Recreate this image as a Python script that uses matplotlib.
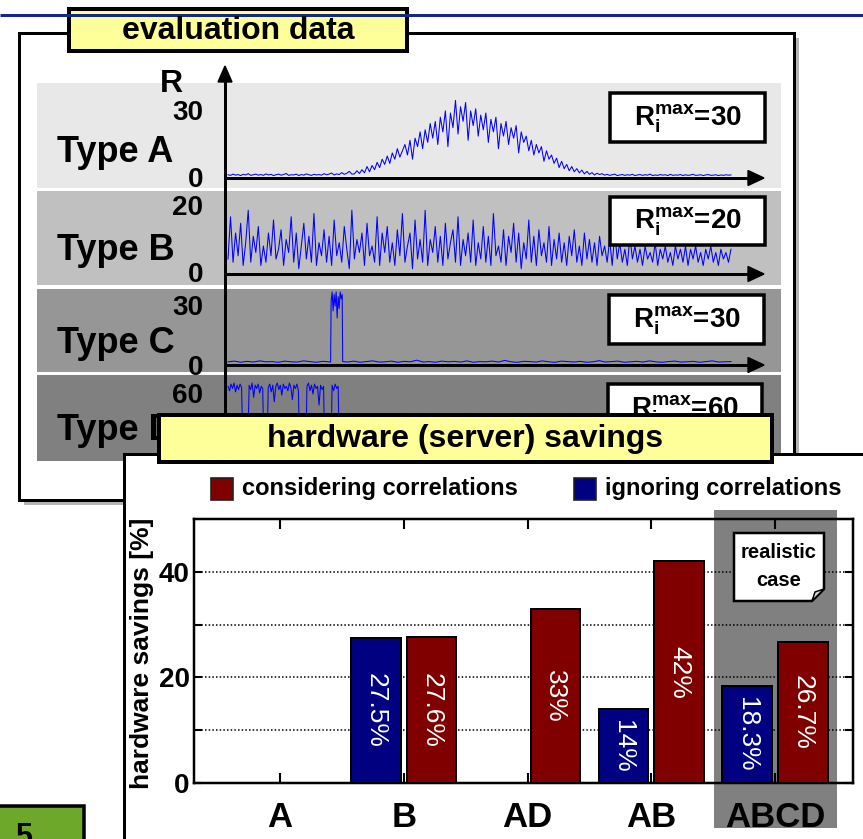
import numpy as np
import matplotlib
matplotlib.use('Agg')
import matplotlib.pyplot as plt
from matplotlib.patches import Rectangle, Polygon

plt.rcParams['font.family'] = ['Liberation Sans', 'DejaVu Sans']
plt.rcParams['mathtext.fontset'] = 'custom'
plt.rcParams['mathtext.rm'] = 'Liberation Sans'
plt.rcParams['mathtext.bf'] = 'Liberation Sans:bold'
plt.rcParams['mathtext.it'] = 'Liberation Sans:italic'

# ---------------- data ----------------
categories = ['A', 'B', 'AD', 'AB', 'ABCD']
ignoring = [None, 27.5, None, 14, 18.3]
considering = [None, 27.6, 33, 42, 26.7]
legend_labels = ['considering correlations', 'ignoring correlations']
type_names = ['Type A', 'Type B', 'Type C', 'Type D']
r_max = [30, 20, 30, 60]
r_top_labels = ['30', '20', '30', '60']

type_a = [0.6, 0.3, 0.9, 0.4, 0.7, 0.2, 0.8, 0.5, 1.1, 0.3, 0.6, 0.9, 0.4, 0.7, 0.3, 1.0, 0.5, 0.8, 0.2, 0.6,
          0.9, 0.4, 0.7, 1.2, 0.3, 0.6, 0.5, 0.9, 0.2, 0.7, 0.4, 1.0, 0.6, 0.3, 0.8, 0.5, 0.7, 0.4, 1.1, 0.6,
          0.9, 1.4, 0.5, 1.0, 0.7, 1.6, 0.8, 1.3, 2.2, 0.9,
          1, 2.5, 1.2, 3, 1.5, 4.5, 2, 5, 3, 6.5,
          4, 8, 5.5, 9.5, 6, 11, 8, 13, 9, 12,
          15, 10, 17, 8, 18, 14, 21, 13, 22, 16,
          25, 18, 26, 15, 28, 21, 31, 14, 30, 23,
          36, 20, 33, 26, 35, 17, 31, 24, 32, 19,
          29, 22, 30, 16, 27, 21, 28, 13, 25, 19,
          26, 15, 23, 18, 24, 11, 21, 16, 19, 12,
          17, 10, 15, 11, 14, 7, 12, 8, 10, 6,
          8.5, 4, 7, 3.5, 5.5, 2.5, 4.5, 2, 3.5, 1.5,
          2.8, 1, 2.2, 0.8, 1.6, 0.5, 1.3, 0.7, 1.1,
          0.4, 0.8, 0.3, 0.6, 0.9, 0.2, 0.5, 0.7, 0.3, 0.6,
          0.4, 0.8, 0.2, 0.5, 0.7, 0.3, 0.6, 0.4, 0.9, 0.2,
          0.5, 0.3, 0.7, 0.4, 0.6, 0.2, 0.8, 0.3, 0.5, 0.4,
          0.7, 0.2, 0.6, 0.3, 0.5, 0.8, 0.3, 0.4, 0.6, 0.2,
          0.5, 0.7, 0.3, 0.4, 0.6, 0.2, 0.5, 0.3, 0.6, 0.4, 0.5]

type_b = [4, 17, 3, 12, 5, 15, 2, 9, 19, 3, 11, 6, 14, 2, 8, 3, 12, 5, 16, 4,
          7, 13, 2, 10, 6, 17, 3, 12, 1, 8, 15, 4, 11, 3, 18, 2, 9, 5, 13, 3,
          11, 2, 16, 5, 9, 3, 14, 7, 1, 19, 4, 10, 6, 12, 2, 15, 5, 8, 3, 17,
          2, 12, 6, 14, 3, 9, 2, 13, 5, 18, 3, 8, 12, 1, 16, 4, 10, 3, 19, 2,
          10, 6, 14, 3, 11, 2, 15, 4, 9, 13, 3, 17, 2, 10, 5, 12, 3, 16, 2, 9,
          4, 14, 3, 11, 2, 18, 5, 8, 3, 13, 2, 11, 6, 15, 3, 12, 1, 9, 4, 16,
          3, 11, 2, 13, 5, 9, 3, 14, 2, 10, 4, 12, 3, 9, 2, 11, 5, 13, 3, 8,
          2, 12, 4, 10, 3, 9, 2, 11, 5, 8, 3, 10, 2, 12, 4, 9, 3, 7, 2, 11,
          4, 8, 3, 7, 2, 8, 4, 6, 3, 9, 2, 7, 4, 8, 3, 6, 2, 8, 4, 7,
          3, 8, 2, 7, 4, 8, 3, 6, 2, 7, 4, 8, 3, 6, 2, 7, 4, 6, 3, 7]

type_c_t = [0, 13, 25, 38, 50, 63, 75, 88, 100, 113, 125, 138, 150, 163, 175, 188, 200, 204,
            205, 207, 209, 211, 213, 215, 217, 219, 221, 223, 225, 227,
            228, 238, 250, 263, 275, 288, 300, 313, 325, 338, 350, 363, 375, 388, 400, 413, 425, 438,
            450, 463, 475, 488, 500, 513, 525, 538, 550, 563, 575, 588, 600, 613, 625, 638, 650, 663,
            675, 688, 700, 713, 725, 738, 750, 763, 775, 788, 800, 813, 825, 838, 850, 863, 875, 888,
            900, 913, 925, 938, 950, 963, 975, 988, 1000]
type_c = [0.5, 0.8, 0.3, 0.7, 0.4, 0.9, 0.5, 0.6, 0.3, 0.8, 0.5, 0.4, 0.9, 0.6, 0.3, 0.7, 0.5, 0.4,
          26, 30, 22, 29, 24, 30, 19, 28, 23, 30, 27, 29,
          0.6, 0.4, 0.8, 0.3, 0.6, 0.9, 0.4, 0.5, 0.8, 0.3,
          0.7, 0.5, 1.2, 0.4, 0.6, 0.3, 0.8, 0.5, 0.7, 0.4,
          0.9, 0.3, 0.6, 0.5, 0.8, 0.4, 1.1, 0.5, 0.3, 0.7,
          0.6, 0.4, 0.9, 0.5, 0.3, 0.8, 0.6, 0.4, 0.7, 0.3,
          0.5, 1.0, 0.4, 0.6, 0.8, 0.3, 0.5, 0.7, 0.4, 0.9,
          0.5, 0.3, 0.6, 0.8, 0.4, 0.5, 0.7, 0.3, 0.6, 0.9,
          0.4, 0.5, 0.6]

type_d_t = [0, 3, 6, 9, 12, 15, 18, 21, 24, 27, 29, 40, 42, 45, 48, 51, 54, 57, 60, 63, 66, 69,
            71, 78, 80, 83, 86, 89, 92, 95, 98, 101, 104, 107, 110, 113, 116, 119, 122, 125, 128,
            131, 134, 137, 140, 142, 155, 157, 160, 163, 166, 169, 172, 175, 178, 181, 184, 187,
            190, 192, 205, 207, 210, 213, 216, 219, 221, 300, 400, 500, 600, 700, 800, 900, 1000]
type_d = [62, 58, 64, 60, 65, 57, 63, 59, 64, 61, 20, 20, 63, 59, 65, 52, 63, 60, 64, 56, 62, 60,
          15, 15, 61, 64, 57, 63, 48, 62, 65, 59, 63, 54, 64, 60, 62, 58, 65, 61, 50,
          63, 60, 64, 58, 12, 12, 62, 65, 58, 63, 55, 64, 60, 62, 45, 63, 59,
          62, 10, 10, 63, 58, 64, 60, 62, 12, 14, 10, 16, 12, 15, 11, 13, 12]

# ---------------- layout helpers ----------------
W, H = 863, 839
fig = plt.figure(figsize=(W / 100, H / 100), dpi=100)
PT = 0.72  # px -> pt


def px_axes(x0, y0, x1, y1, z):
    return fig.add_axes([x0 / W, 1 - y1 / H, (x1 - x0) / W, (y1 - y0) / H], zorder=z)


def overlay(z):
    ax = fig.add_axes([0, 0, 1, 1], zorder=z)
    ax.set_xlim(0, W)
    ax.set_ylim(H, 0)
    ax.axis('off')
    return ax


YELLOW = '#ffff99'
bold = dict(fontweight='bold')

# ---------------- background layer ----------------
bg = overlay(0)
bg.plot([0, W], [15, 15], color='#14288c', lw=3 * PT, solid_capstyle='butt')
bg.add_patch(Rectangle((23.5, 37.5), 775.5, 467.5, fc='#b4b4b4', ec='none'))
bg.add_patch(Rectangle((18.5, 32.5), 775.5, 467.5, fc='white', ec='black', lw=3 * PT))

strips = [(83, 188, '#e8e8e8'), (191, 285, '#c0c0c0'), (289, 372, '#969696'), (375, 461, '#808080')]
for y0, y1, c in strips:
    bg.add_patch(Rectangle((37, y0), 744, y1 - y0, fc=c, ec='none'))

# axes arrows
bg.plot([225, 225], [520, 80], color='black', lw=3 * PT, solid_capstyle='butt')
bg.add_patch(Polygon([(218, 82), (225, 66), (232, 82)], closed=True, fc='black', ec='black'))
for ya in [178, 274, 365, 457]:
    bg.plot([225, 750], [ya, ya], color='black', lw=3 * PT, solid_capstyle='butt')
    bg.add_patch(Polygon([(748, ya - 7.5), (764, ya), (748, ya + 7.5)], closed=True, fc='black', ec='black'))

bg.text(171, 84, 'R', fontsize=23, ha='center', va='center', **bold)
top_lbl_y = [113, 208, 308, 396]
zero_lbl_y = [180, 275, 368, 458]
type_base_y = [162, 260, 353, 440]
for k in range(4):
    bg.text(203, top_lbl_y[k], r_top_labels[k], fontsize=20, ha='right', va='center', **bold)
    bg.text(203, zero_lbl_y[k], '0', fontsize=20, ha='right', va='center', **bold)
    bg.text(57, type_base_y[k], type_names[k], fontsize=26, ha='left', va='baseline', **bold)

bg.add_patch(Rectangle((69, 9), 338, 42, fc=YELLOW, ec='black', lw=4 * PT))
bg.text(238, 31, 'evaluation data', fontsize=23, ha='center', va='center', **bold)

# ---------------- time series ----------------
series = [
    (np.linspace(0, 1000, len(type_a)), type_a, 83, 188, 176, 2.1),
    (np.linspace(0, 1000, len(type_b)), type_b, 191, 285, 272, 3.25),
    (type_c_t, type_c, 289, 372, 363, 2.37),
    (type_d_t, type_d, 375, 461, 455, 1.108),
]
for t, v, y0, y1, zy, ppu in series:
    n = min(len(t), len(v))
    a = px_axes(228, y0, 731, y1, 1)
    a.axis('off')
    a.set_xlim(0, 1000)
    a.set_ylim(-(y1 - zy) / ppu, (zy - y0) / ppu)
    a.plot(np.asarray(t[:n], float), np.asarray(v[:n], float), color='#0000ff', lw=0.75, clip_on=False)

# ---------------- foreground layer ----------------
fg = overlay(2)
rboxes = [(610, 93, 765, 142), (610, 197, 765, 245), (609, 295, 764, 344), (608, 384, 762, 433)]
for (x0, y0, x1, y1), rm in zip(rboxes, r_max):
    fg.add_patch(Rectangle((x0, y0), x1 - x0, y1 - y0, fc='white', ec='black', lw=3.5 * PT, zorder=2))
    fg.text((x0 + x1) / 2, (y0 + y1) / 2 + 1, r'$\mathbf{R}_{\mathbf{i}}^{\mathbf{max}}$' + '=%d' % rm,
            fontsize=20, ha='center', va='center', zorder=3, **bold)

fg.add_patch(Rectangle((123.5, 453.5), 800, 500, fc='white', ec='black', lw=3 * PT, zorder=5))
fg.add_patch(Rectangle((159, 415), 613, 47, fc=YELLOW, ec='black', lw=4 * PT, zorder=6))
fg.text(465, 439, 'hardware (server) savings', fontsize=23, ha='center', va='center', zorder=7, **bold)

fg.add_patch(Rectangle((211, 478), 22, 22, fc='#800000', ec='#222222', lw=1.2, zorder=7))
fg.text(242, 489, legend_labels[0], fontsize=17, ha='left', va='center', zorder=7, **bold)
fg.add_patch(Rectangle((574, 478), 22, 22, fc='#000080', ec='#222222', lw=1.2, zorder=7))
fg.text(605, 489, legend_labels[1], fontsize=17, ha='left', va='center', zorder=7, **bold)

fg.add_patch(Rectangle((714, 510), 123, 318, fc='#808080', ec='none', zorder=7))

# ---------------- bar chart ----------------
ax = px_axes(194, 519, 853, 783, 3)
ax.set_facecolor('none')
xpos = np.arange(1, len(categories) + 1)
bw, off = 0.40, 0.225
for xs, vals, col in [(xpos - off, ignoring, '#000080'), (xpos + off, considering, '#800000')]:
    for x, v in zip(xs, vals):
        if v is None:
            continue
        ax.bar(x, v, width=bw, color=col, edgecolor='black', linewidth=2 * PT, zorder=3)
        ax.text(x, v / 2, '%g%%' % v, rotation=270, color='white', fontsize=19,
                ha='center', va='center', zorder=4)

ax.set_xlim(0.305, 5.63)
ax.set_ylim(0, 50)
ax.set_yticks([0, 10, 20, 30, 40])
ax.set_yticklabels(['0', '', '20', '', '40'], fontsize=20, fontweight='bold')
ax.set_xticks(xpos)
ax.set_xticklabels(categories, fontsize=25, fontweight='bold')
ax.yaxis.grid(True, color='black', linestyle=(0, (1, 1.4)), lw=1.1)
ax.set_axisbelow(True)
ax.tick_params(axis='both', direction='in', top=True, right=True, width=1.5)
ax.tick_params(axis='x', length=7, pad=13)
ax.tick_params(axis='y', length=6, pad=3)
for s in ax.spines.values():
    s.set_linewidth(2.5 * PT)
ax.set_ylabel('hardware savings [%]', fontsize=19, fontweight='bold')
ax.yaxis.set_label_coords(-0.06, 0.49)

# ---------------- top notes ----------------
nt = overlay(4)
nt.add_patch(Polygon([(734, 533), (824, 533), (824, 589), (812, 601), (734, 601)], closed=True,
                     fc='white', ec='black', lw=2.5 * PT))
nt.add_patch(Polygon([(812, 601), (815, 592), (824, 589)], closed=True, fc='#dddddd', ec='black', lw=1.5 * PT))
nt.text(779, 553, 'realistic', fontsize=14.5, ha='center', va='center', **bold)
nt.text(779, 581, 'case', fontsize=14.5, ha='center', va='center', **bold)

nt.add_patch(Rectangle((-5, 806), 89, 60, fc='#6ea82a', ec='black', lw=3.5 * PT))
nt.text(24, 845, '5', fontsize=22, ha='center', va='baseline', **bold)

fig.savefig('out.png', dpi=100)
